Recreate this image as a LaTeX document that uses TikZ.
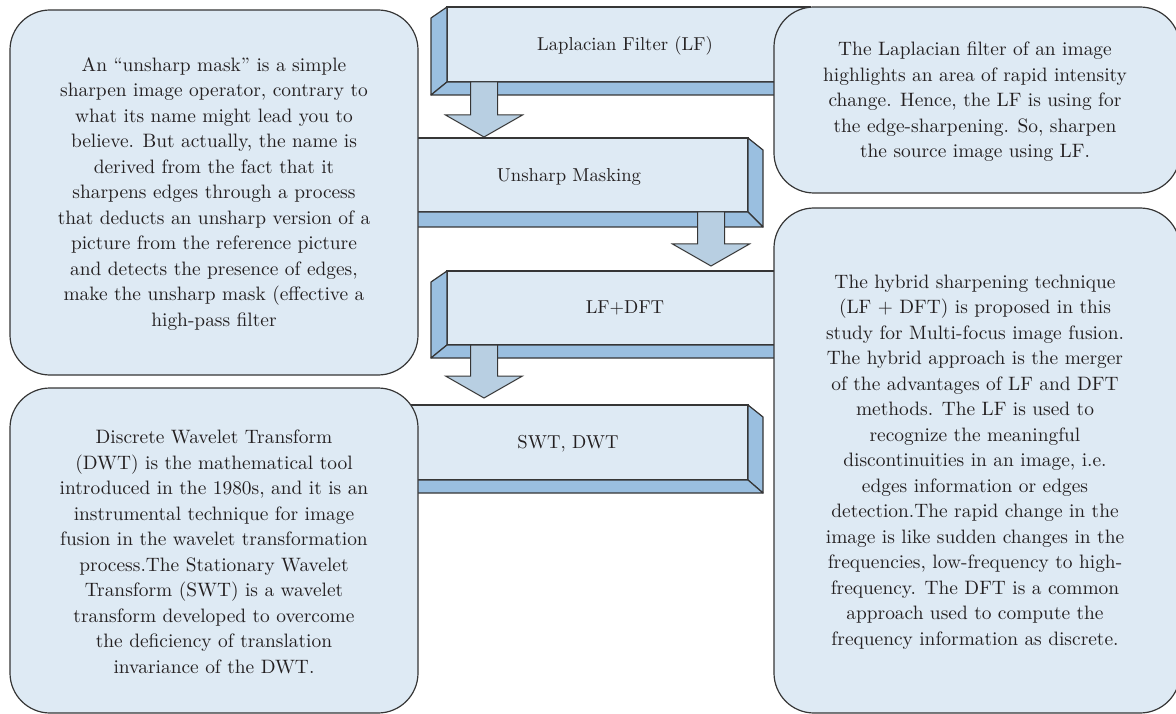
\documentclass[tikz,border=0pt]{standalone}
\usepackage{fontspec}
\setmainfont{lmroman10-regular.otf}
\usetikzlibrary{calc}

\definecolor{facefill}{HTML}{DEEAF4}
\definecolor{slabfill}{HTML}{9ABFE0}
\definecolor{arrowfill}{HTML}{B8CFE2}
\definecolor{edgegray}{HTML}{363636}
\definecolor{inkgray}{HTML}{231F20}

% block arrow: #1 source step, #2 target step, #3 centre x, #4 gap above target
\newcommand\blockarrow[4]{%
  \path (#3,0 |- #1.south) coordinate (atop)
        (#3,0 |- #2.north) coordinate (abase);
  \draw[arrowbody] ($(atop)+(-13.5,0)$) -- ($(abase)+(-13.5,-22-#4)$)
     -- ($(abase)+(-38.5,-22-#4)$) -- ($(abase)+(0,-#4)$)
     -- ($(abase)+(38.5,-22-#4)$) -- ($(abase)+(13.5,-22-#4)$)
     -- ($(atop)+(13.5,0)$) -- cycle;}

\begin{document}
\begin{tikzpicture}[x=1pt,y=-1pt,
  every node/.style={inner sep=0pt,outer sep=0pt},
  infobox/.style={draw=edgegray,line width=1.2pt,fill=facefill,rounded corners=40pt,anchor=north west},
  face/.style={draw=edgegray,line width=1.2pt,fill=facefill,anchor=north west},
  slab/.style={draw=edgegray,line width=1.2pt,fill=slabfill,line join=round},
  arrowbody/.style={draw=edgegray,line width=1pt,fill=arrowfill,line join=miter},
  bodytext/.style={align=center,text=inkgray,font=\fontsize{19.4}{25.5}\selectfont},
  steptext/.style={anchor=base,text=inkgray,font=\fontsize{18.7}{24}\selectfont}]

\useasboundingbox (0,0) rectangle (1176,714);

% ---- process steps (bevelled bars) ----
\node[face,minimum width=363pt,minimum height=75pt] (lf) at (447,7) {};
\draw[slab] (lf.north west) -- ++(-16,11) -- ($(lf.south west)+(-16,13)$) -- (lf.south west) -- cycle;
\draw[slab] (lf.south west) -- ++(-16,13) -- ($(lf.south east)+(0,13)$) -- (lf.south east) -- cycle;

\node[face,minimum width=348pt,minimum height=74pt] (usm) at (400,138) {};
\draw[slab] (usm.north east) -- ++(15,12) -- ($(usm.south east)+(15,15)$) -- (usm.south east) -- cycle;
\draw[slab] (usm.south west) -- (usm.south east) -- ++(15,15) -- ($(usm.south west)+(0,15)$) -- cycle;

\node[face,minimum width=343pt,minimum height=74pt] (hyb) at (447,271) {};
\draw[slab] (hyb.north west) -- ++(-16,11) -- ($(hyb.south west)+(-16,13)$) -- (hyb.south west) -- cycle;
\draw[slab] (hyb.south west) -- ++(-16,13) -- ($(hyb.south east)+(0,13)$) -- (hyb.south east) -- cycle;

\node[face,minimum width=348pt,minimum height=75pt] (wav) at (400,405) {};
\draw[slab] (wav.north east) -- ++(15,12) -- ($(wav.south east)+(15,13)$) -- (wav.south east) -- cycle;
\draw[slab] (wav.south west) -- (wav.south east) -- ++(15,13) -- ($(wav.south west)+(0,13)$) -- cycle;

\node[steptext] (lflabel)  at (625,50.5)  {Laplacian Filter (LF)};
\node[steptext] (usmlabel) at (569,181.5) {Unsharp Masking};
\node[steptext] (hyblabel) at (625,313)   {LF+DFT};
\node[steptext] (wavlabel) at (568,448)   {SWT, DWT};

% ---- flow arrows ----
\blockarrow{lf}{usm}{484}{1}
\blockarrow{usm}{hyb}{711}{5}
\blockarrow{hyb}{wav}{484}{7}

% ---- description panels ----
\node[infobox,minimum width=408pt,minimum height=365pt] (usminfo) at (10,10) {};
\node[infobox,minimum width=408pt,minimum height=325pt] (wavinfo) at (10,388) {};
\node[infobox,minimum width=406pt,minimum height=186pt] (lfinfo)  at (774,7) {};
\node[infobox,minimum width=406pt,minimum height=505pt] (hybinfo) at (774,208) {};

\node[bodytext] (usmtext) at (214,194) {An “unsharp mask” is a simple\\
sharpen image operator, contrary to\\
what its name might lead you to\\
believe. But actually, the name is\\
derived from the fact that it\\
sharpens edges through a process\\
that deducts an unsharp version of a\\
picture from the reference picture\\
and detects the presence of edges,\\
make the unsharp mask (effective a\\
high-pass filter};

\node[bodytext] (wavtext) at (214,552) {Discrete Wavelet Transform\\
(DWT) is the mathematical tool\\
introduced in the 1980s, and it is an\\
instrumental technique for image\\
fusion in the wavelet transformation\\
process.The Stationary Wavelet\\
Transform (SWT) is a wavelet\\
transform developed to overcome\\
the deficiency of translation\\
invariance of the DWT.};

\node[bodytext] (lftext) at (975,102) {The Laplacian filter of an image\\
highlights an area of rapid intensity\\
change. Hence, the LF is using for\\
the edge-sharpening. So, sharpen\\
the source image using LF.};

\node[bodytext] (hybtext) at (975,462) {The hybrid sharpening technique\\
(LF + DFT) is proposed in this\\
study for Multi-focus image fusion.\\
The hybrid approach is the merger\\
of the advantages of LF and DFT\\
methods. The LF is used to\\
recognize the meaningful\\
discontinuities in an image, i.e.\\
edges information or edges\\
detection.The rapid change in the\\
image is like sudden changes in the\\
frequencies, low-frequency to high-\\
frequency. The DFT is a common\\
approach used to compute the\\
frequency information as discrete.};
\end{tikzpicture}
\end{document}
